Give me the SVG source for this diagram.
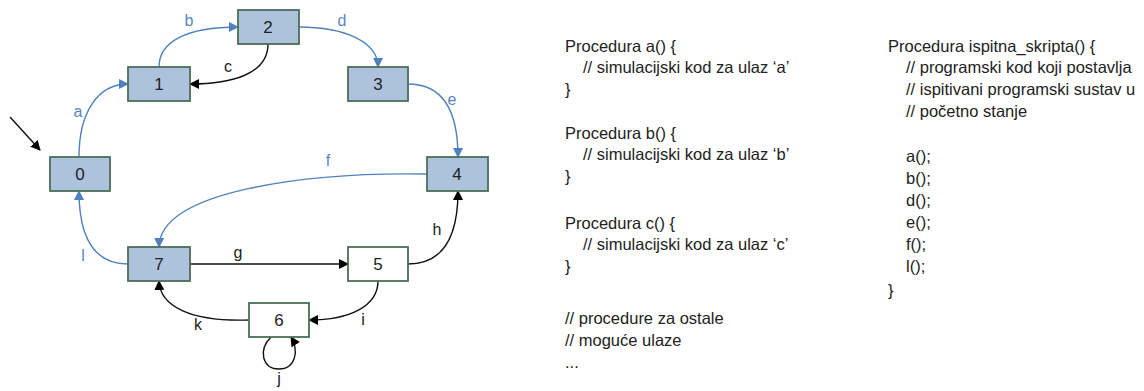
<svg xmlns="http://www.w3.org/2000/svg" width="1144" height="391" viewBox="0 0 1144 391">
  <defs>
    <marker id="arrBlue" viewBox="0 0 10 10" refX="9" refY="5" markerWidth="10" markerHeight="10" markerUnits="userSpaceOnUse" orient="auto">
      <path d="M0,0 L10,5 L0,10 Z" fill="#4f81bd"/>
    </marker>
    <marker id="arrBlack" viewBox="0 0 10 10" refX="9" refY="5" markerWidth="10" markerHeight="10" markerUnits="userSpaceOnUse" orient="auto">
      <path d="M0,0 L10,5 L0,10 Z" fill="#000"/>
    </marker>
  </defs>
  <style>
    .node rect { stroke: #4a6f58; stroke-width: 1.8; }
    .state { fill: #adc2dc; }
    .plain { fill: #ffffff; }
    .node text { font-family: "Liberation Sans", Arial, sans-serif; font-size: 17px; fill: #222; text-anchor: middle; }
    .blue { fill: none; stroke: #4f81bd; stroke-width: 1.4; marker-end: url(#arrBlue); }
    .black { fill: none; stroke: #111; stroke-width: 1.4; marker-end: url(#arrBlack); }
    .lbl { font-family: "Liberation Sans", Arial, sans-serif; font-size: 16px; text-anchor: middle; }
    .lb { fill: #5a86c2; }
    .lk { fill: #222; }
    .code { font-family: "Liberation Sans", Arial, sans-serif; font-size: 16.5px; fill: #222; }
  </style>

  <!-- transitions -->
  <g id="connectors">
    <path id="start" class="black" d="M10,117 L40,150"/>
    <path id="edge-a" class="blue" d="M79,157 C79,112 98,84 128,84"/>
    <path id="edge-b" class="blue" d="M159,67 C159,42 186,27 238,27"/>
    <path id="edge-c" class="black" d="M268,44 C268,74 232,84 190,84"/>
    <path id="edge-d" class="blue" d="M299,27 C345,27 378,42 378,67"/>
    <path id="edge-e" class="blue" d="M408,84 C442,84 458,110 458,157"/>
    <path id="edge-f" class="blue" d="M427,174 C310,172 160,190 159,247"/>
    <path id="edge-g" class="black" d="M190,264 L348,264"/>
    <path id="edge-h" class="black" d="M408,264 C442,264 458,238 458,191"/>
    <path id="edge-i" class="black" d="M378,281 C378,306 350,320 309,320"/>
    <path id="edge-j" class="black" d="M271,337 C258,350 262,369 279,369 C296,369 299,350 291,337"/>
    <path id="edge-k" class="black" d="M249,320 C190,322 160,306 159,281"/>
    <path id="edge-l" class="blue" d="M128,264 C95,264 79,240 79,191"/>

    <text class="lbl lb" x="78" y="117">a</text>
    <text class="lbl lb" x="189" y="26">b</text>
    <text class="lbl lk" x="228" y="72">c</text>
    <text class="lbl lb" x="342" y="26">d</text>
    <text class="lbl lb" x="452" y="105">e</text>
    <text class="lbl lb" x="328" y="166">f</text>
    <text class="lbl lk" x="238" y="258">g</text>
    <text class="lbl lk" x="437" y="235">h</text>
    <text class="lbl lk" x="363" y="325">i</text>
    <text class="lbl lk" x="279" y="384">j</text>
    <text class="lbl lk" x="198" y="330">k</text>
    <text class="lbl lb" x="83" y="261">l</text>
  </g>

  <!-- states -->
  <g id="node-0" class="node"><rect class="state" x="50" y="157" width="60" height="34"/><text x="80" y="180">0</text></g>
  <g id="node-1" class="node"><rect class="state" x="128" y="67" width="62" height="34"/><text x="159" y="90">1</text></g>
  <g id="node-2" class="node"><rect class="state" x="238" y="10" width="61" height="34"/><text x="268" y="33">2</text></g>
  <g id="node-3" class="node"><rect class="state" x="348" y="67" width="60" height="34"/><text x="378" y="90">3</text></g>
  <g id="node-4" class="node"><rect class="state" x="427" y="157" width="61" height="34"/><text x="457" y="180">4</text></g>
  <g id="node-5" class="node"><rect class="plain" x="348" y="247" width="60" height="34"/><text x="378" y="270">5</text></g>
  <g id="node-6" class="node"><rect class="plain" x="249" y="303" width="60" height="34"/><text x="279" y="326">6</text></g>
  <g id="node-7" class="node"><rect class="state" x="128" y="247" width="62" height="34"/><text x="159" y="270">7</text></g>

  <!-- procedures -->
  <g id="procedures" class="code">
    <text x="565" y="52">Procedura a() {</text>
    <text x="583" y="73">// simulacijski kod za ulaz ‘a’</text>
    <text x="565" y="95">}</text>
    <text x="565" y="139">Procedura b() {</text>
    <text x="583" y="160">// simulacijski kod za ulaz ‘b’</text>
    <text x="565" y="182">}</text>
    <text x="565" y="229">Procedura c() {</text>
    <text x="583" y="250">// simulacijski kod za ulaz ‘c’</text>
    <text x="565" y="272">}</text>
    <text x="565" y="324">// procedure za ostale</text>
    <text x="565" y="346">// moguće ulaze</text>
    <text x="565" y="368">...</text>
  </g>

  <g id="test-script" class="code">
    <text x="888" y="52">Procedura ispitna_skripta() {</text>
    <text x="906" y="73">// programski kod koji postavlja</text>
    <text x="906" y="95">// ispitivani programski sustav u</text>
    <text x="906" y="117">// početno stanje</text>
    <text x="906" y="162">a();</text>
    <text x="906" y="184">b();</text>
    <text x="906" y="206">d();</text>
    <text x="906" y="228">e();</text>
    <text x="906" y="250">f();</text>
    <text x="906" y="272">l();</text>
    <text x="888" y="296">}</text>
  </g>
</svg>
